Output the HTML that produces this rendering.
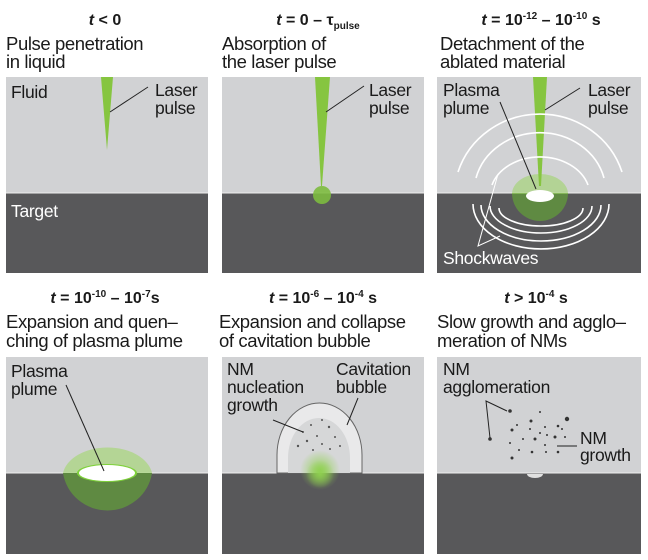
<!DOCTYPE html>
<html><head><meta charset="utf-8"><style>
html,body{margin:0;padding:0;background:#fff;}
svg{display:block;}
text{font-family:"Liberation Sans",Arial,sans-serif;fill:#1a1a1a;}
.t{font-size:16px;font-weight:bold;text-anchor:middle;}
.s{font-size:18.5px;letter-spacing:-0.4px;}
.l{font-size:17.5px;letter-spacing:-0.3px;}
.w{fill:#fff;}
</style></head><body>
<svg width="648" height="560" viewBox="0 0 648 560" xmlns="http://www.w3.org/2000/svg">
<defs>
<radialGradient id="gl" cx="50%" cy="50%" r="50%">
<stop offset="0" stop-color="#8fd14f" stop-opacity="0.9"/>
<stop offset="1" stop-color="#8fd14f" stop-opacity="0"/>
</radialGradient>
</defs>
<!-- titles row1 -->
<text class="t" x="105" y="25"><tspan font-style="italic">t</tspan> &lt; 0</text>
<text class="t" x="318" y="25"><tspan font-style="italic">t</tspan> = 0 – τ<tspan font-size="10" dy="4">pulse</tspan></text>
<text class="t" x="541" y="25"><tspan font-style="italic">t</tspan> = 10<tspan font-size="10" dy="-6">-12</tspan><tspan dy="6"> – 10</tspan><tspan font-size="10" dy="-6">-10</tspan><tspan dy="6"> s</tspan></text>
<text class="s" x="6" y="50">Pulse penetration</text><text class="s" x="6" y="68">in liquid</text>
<text class="s" x="222" y="50">Absorption of</text><text class="s" x="222" y="68">the laser pulse</text>
<text class="s" x="440" y="50">Detachment of the</text><text class="s" x="440" y="68">ablated material</text>
<!-- titles row2 -->
<text class="t" x="105" y="303"><tspan font-style="italic">t</tspan>  = 10<tspan font-size="10" dy="-6">-10</tspan><tspan dy="6"> – 10</tspan><tspan font-size="10" dy="-6">-7</tspan><tspan dy="6">s</tspan></text>
<text class="t" x="323" y="303"><tspan font-style="italic">t</tspan> = 10<tspan font-size="10" dy="-6">-6</tspan><tspan dy="6"> – 10</tspan><tspan font-size="10" dy="-6">-4</tspan><tspan dy="6"> s</tspan></text>
<text class="t" x="536" y="303"><tspan font-style="italic">t</tspan>  &gt; 10<tspan font-size="10" dy="-6">-4</tspan><tspan dy="6"> s</tspan></text>
<text class="s" x="6" y="328">Expansion and quen–</text><text class="s" x="6" y="347">ching of plasma plume</text>
<text class="s" x="219" y="328">Expansion and collapse</text><text class="s" x="219" y="347">of cavitation bubble</text>
<text class="s" x="437" y="328">Slow growth and agglo–</text><text class="s" x="437" y="347">meration of NMs</text>

<!-- Panels row1 -->
<g>
<rect x="6" y="77" width="202" height="116" fill="#d1d2d4"/><rect x="6" y="193" width="202" height="80" fill="#58585a"/>
<rect x="222" y="77" width="202" height="116" fill="#d1d2d4"/><rect x="222" y="193" width="202" height="80" fill="#58585a"/>
<rect x="437" y="77" width="204" height="116" fill="#d1d2d4"/><rect x="437" y="193" width="204" height="80" fill="#58585a"/>
<line x1="6" y1="193" x2="208" y2="193" stroke="#eee" stroke-width="1"/>
<line x1="222" y1="193" x2="424" y2="193" stroke="#eee" stroke-width="1"/>
<line x1="437" y1="193" x2="641" y2="193" stroke="#eee" stroke-width="1"/>
</g>
<!-- panel 1 -->
<polygon points="101,77 113,77 107,150" fill="#86c540"/>
<line x1="110" y1="112" x2="148" y2="87" stroke="#222" stroke-width="1"/>
<text class="l" x="155" y="96">Laser</text><text class="l" x="155" y="114">pulse</text>
<text class="l" x="11" y="98">Fluid</text>
<text class="l w" x="11" y="217">Target</text>
<!-- panel 2 -->
<polygon points="315,77 330,77 322,186 321,186" fill="#86c540"/>
<circle cx="322" cy="195" r="9" fill="#7dbb3f" opacity="0.9"/>
<line x1="326" y1="112" x2="364" y2="86" stroke="#222" stroke-width="1"/>
<text class="l" x="369" y="96">Laser</text><text class="l" x="369" y="114">pulse</text>
<!-- panel 3 -->
<path d="M512,193 A28,28 0 0 0 568,193 Z" fill="#5f8a42"/>
<path d="M512,194 A28,20 0 0 1 568,194 Z" fill="#9fd46a" opacity="0.6"/>
<polygon points="533,77 547,77 541,186 539,186" fill="#86c540"/>
<ellipse cx="540" cy="196" rx="14" ry="6" fill="#fff"/>
<g fill="none" stroke="#fff" stroke-width="1.6">
<path d="M458,172 A86,83 0 0 1 622,172"/>
<path d="M476,178 A66,60 0 0 1 604,178"/>
<path d="M492,185 A50,39 0 0 1 588,185"/>
<path d="M499,208 A42,18 0 0 0 583,208"/>
<path d="M490,206 A51,27 0 0 0 592,206"/>
<path d="M481,205 A60,36 0 0 0 601,205"/>
<path d="M473,204 A68,45 0 0 0 609,204"/>
</g>
<line x1="545" y1="110" x2="580" y2="88" stroke="#222" stroke-width="1"/>
<text class="l" x="588" y="96">Laser</text><text class="l" x="588" y="114">pulse</text>
<text class="l" x="443" y="96">Plasma</text><text class="l" x="443" y="114">plume</text>
<line x1="500" y1="102" x2="536" y2="189" stroke="#222" stroke-width="1"/>
<polyline points="498,174 478,246 500,236" fill="none" stroke="#fff" stroke-width="1"/>
<text class="l w" x="443" y="264">Shockwaves</text>

<!-- Panels row2 -->
<rect x="6" y="357" width="202" height="116" fill="#d1d2d4"/><rect x="6" y="473" width="202" height="81" fill="#58585a"/>
<rect x="222" y="357" width="202" height="116" fill="#d1d2d4"/><rect x="222" y="473" width="202" height="81" fill="#58585a"/>
<rect x="437" y="357" width="204" height="116" fill="#d1d2d4"/><rect x="437" y="473" width="204" height="81" fill="#58585a"/>
<line x1="6" y1="473" x2="208" y2="473" stroke="#eee"/>
<line x1="222" y1="473" x2="424" y2="473" stroke="#eee"/>
<line x1="437" y1="473" x2="641" y2="473" stroke="#eee"/>
<!-- r2 p1 -->
<path d="M63,473 A45,44 0 0 0 152,473 Z" fill="#5f8a42"/>
<path d="M63,473 A45,30 0 0 1 152,473 Z" fill="#a8d67a" opacity="0.7"/>
<ellipse cx="107" cy="473" rx="30" ry="9" fill="#7fd13b"/>
<ellipse cx="107" cy="473" rx="28" ry="8" fill="#fff"/>
<line x1="66" y1="385" x2="104" y2="471" stroke="#222" stroke-width="1"/>
<text class="l" x="11" y="377">Plasma</text><text class="l" x="11" y="395">plume</text>
<!-- r2 p2 -->
<path d="M277,473 L277,455 A42.5,52 0 0 1 362,455 L362,473 Z" fill="#e9e9ea" stroke="#666" stroke-width="1"/>
<path d="M288,473 L288,458 A31,40 0 0 1 350,458 L350,473 Z" fill="#d6d7d8"/>
<circle cx="320" cy="470" r="20" fill="url(#gl)"/>
<circle cx="320" cy="474" r="14" fill="url(#gl)"/>
<g fill="#555">
<circle cx="303" cy="432" r="1"/><circle cx="311" cy="425" r="1"/><circle cx="322" cy="420" r="1"/><circle cx="329" cy="427" r="1.2"/><circle cx="317" cy="436" r="1"/><circle cx="307" cy="441" r="1.2"/><circle cx="298" cy="446" r="1.2"/><circle cx="322" cy="444" r="1"/><circle cx="335" cy="437" r="1"/><circle cx="330" cy="449" r="1"/><circle cx="340" cy="446" r="1"/><circle cx="313" cy="450" r="1"/>
</g>
<line x1="273" y1="420" x2="303" y2="432" stroke="#222" stroke-width="1"/>
<line x1="358" y1="398" x2="347" y2="425" stroke="#222" stroke-width="1"/>
<text class="l" x="227" y="375">NM</text><text class="l" x="227" y="393">nucleation</text><text class="l" x="227" y="411">growth</text>
<text class="l" x="336" y="375">Cavitation</text><text class="l" x="336" y="393">bubble</text>
<!-- r2 p3 -->
<path d="M527,474 A8,4 0 0 0 543,474 Z" fill="#e0e0e0"/>
<g fill="#333">
<circle cx="510" cy="411" r="1.8"/><circle cx="540" cy="412" r="1"/><circle cx="531" cy="421" r="1.5"/><circle cx="567" cy="419" r="2.2"/><circle cx="517" cy="425" r="1"/><circle cx="512" cy="430" r="1.5"/><circle cx="530" cy="429" r="1"/><circle cx="545" cy="427" r="1"/><circle cx="558" cy="426" r="1.3"/><circle cx="540" cy="433" r="1"/><circle cx="547" cy="435" r="1"/><circle cx="555" cy="437" r="1.5"/><circle cx="562" cy="429" r="1"/><circle cx="565" cy="437" r="1"/><circle cx="523" cy="439" r="1"/><circle cx="535" cy="439" r="1.5"/><circle cx="510" cy="443" r="1"/><circle cx="490" cy="439" r="1.8"/><circle cx="545" cy="445" r="1"/><circle cx="519" cy="450" r="1"/><circle cx="532" cy="452" r="1.3"/><circle cx="546" cy="452" r="1"/><circle cx="558" cy="452" r="1.3"/><circle cx="512" cy="458" r="1.5"/>
</g>
<polyline points="507,411 486,401 490,438" fill="none" stroke="#222" stroke-width="1"/>
<line x1="557" y1="446" x2="577" y2="446" stroke="#444" stroke-width="1.2"/>
<text class="l" x="443" y="375">NM</text><text class="l" x="443" y="393">agglomeration</text>
<text class="l" x="580" y="444">NM</text><text class="l" x="580" y="461">growth</text>
</svg>
</body></html>
